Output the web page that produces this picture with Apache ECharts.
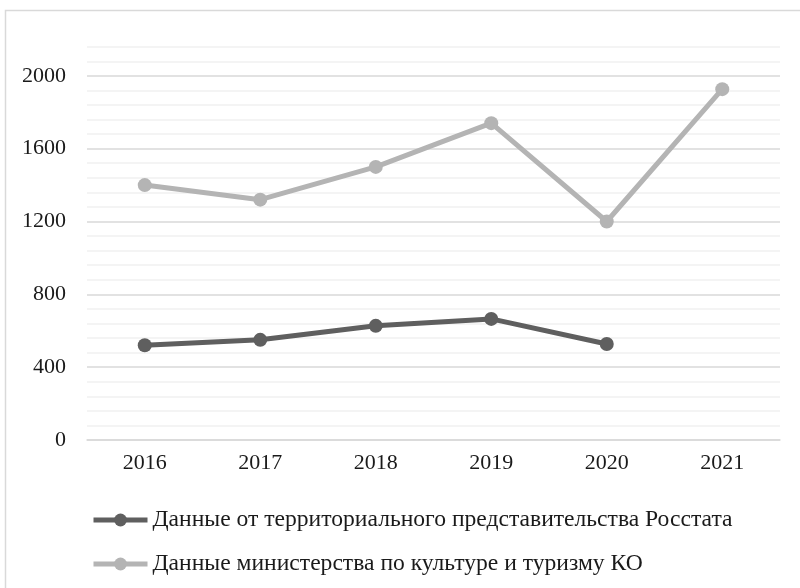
<!DOCTYPE html>
<html>
<head>
<meta charset="utf-8">
<script src="https://cdn.jsdelivr.net/npm/echarts@6/dist/echarts.min.js"></script>
<style>html,body{margin:0;padding:0;background:#fff;}#c{width:800px;height:588px;}</style>
</head>
<body>
<div id="c"></div>
<script>
var categories = ['2016', '2017', '2018', '2019', '2020', '2021'];
var rosstat = [520, 550, 627, 665, 527, null];
var ministry = [1400, 1320, 1500, 1740, 1200, 1927];
var seriesNames = ['Данные от территориального представительства Росстата', 'Данные министерства по культуре и туризму КО'];
var yMin = 0, yMax = 2160, yStep = 80, yLabelStep = 400;

var FONT = 'Liberation Serif';
var chart = echarts.init(document.getElementById('c'), null, {renderer: 'canvas'});
var gridColors = [];
for (var i = 0; i < 5; i++) gridColors.push(i === 0 ? '#d9d9d9' : '#f0f0f0');

chart.setOption({
  animation: false,
  backgroundColor: '#fff',
  graphic: [{
    type: 'rect', silent: true,
    shape: {x: 5.5, y: 10.5, width: 820, height: 600},
    style: {fill: null, stroke: '#d9d9d9', lineWidth: 1.5}
  }],
  grid: {left: 87, right: 20, top: 46.7, bottom: 148, containLabel: false},
  legend: {
    orient: 'vertical', left: 91, top: 508, itemGap: 20, padding: 0,
    itemWidth: 54, itemHeight: 16,
    lineStyle: {width: 5},
    textStyle: {fontFamily: FONT, fontSize: 23.6, color: '#1a1a1a'},
    data: seriesNames
  },
  xAxis: {
    type: 'category', data: categories, boundaryGap: true,
    axisLine: {lineStyle: {color: '#d9d9d9', width: 1.5}},
    axisTick: {show: false},
    axisLabel: {fontFamily: FONT, fontSize: 22, color: '#1a1a1a', margin: 12}
  },
  yAxis: {
    type: 'value', min: yMin, max: yMax, interval: yStep,
    axisLine: {show: false}, axisTick: {show: false},
    axisLabel: {
      fontFamily: FONT, fontSize: 22, color: '#1a1a1a', margin: 21,
      formatter: function (v) { return v % yLabelStep === 0 ? String(v) : ''; }
    },
    splitLine: {lineStyle: {color: gridColors, width: 1.5}}
  },
  series: [{
    name: seriesNames[0], type: 'line', data: rosstat,
    symbol: 'circle', symbolSize: 14,
    lineStyle: {color: '#5f5f5f', width: 5},
    itemStyle: {color: '#5f5f5f'}
  }, {
    name: seriesNames[1], type: 'line', data: ministry,
    symbol: 'circle', symbolSize: 14,
    lineStyle: {color: '#b4b4b4', width: 5},
    itemStyle: {color: '#b4b4b4'}
  }]
});
</script>
</body>
</html>
